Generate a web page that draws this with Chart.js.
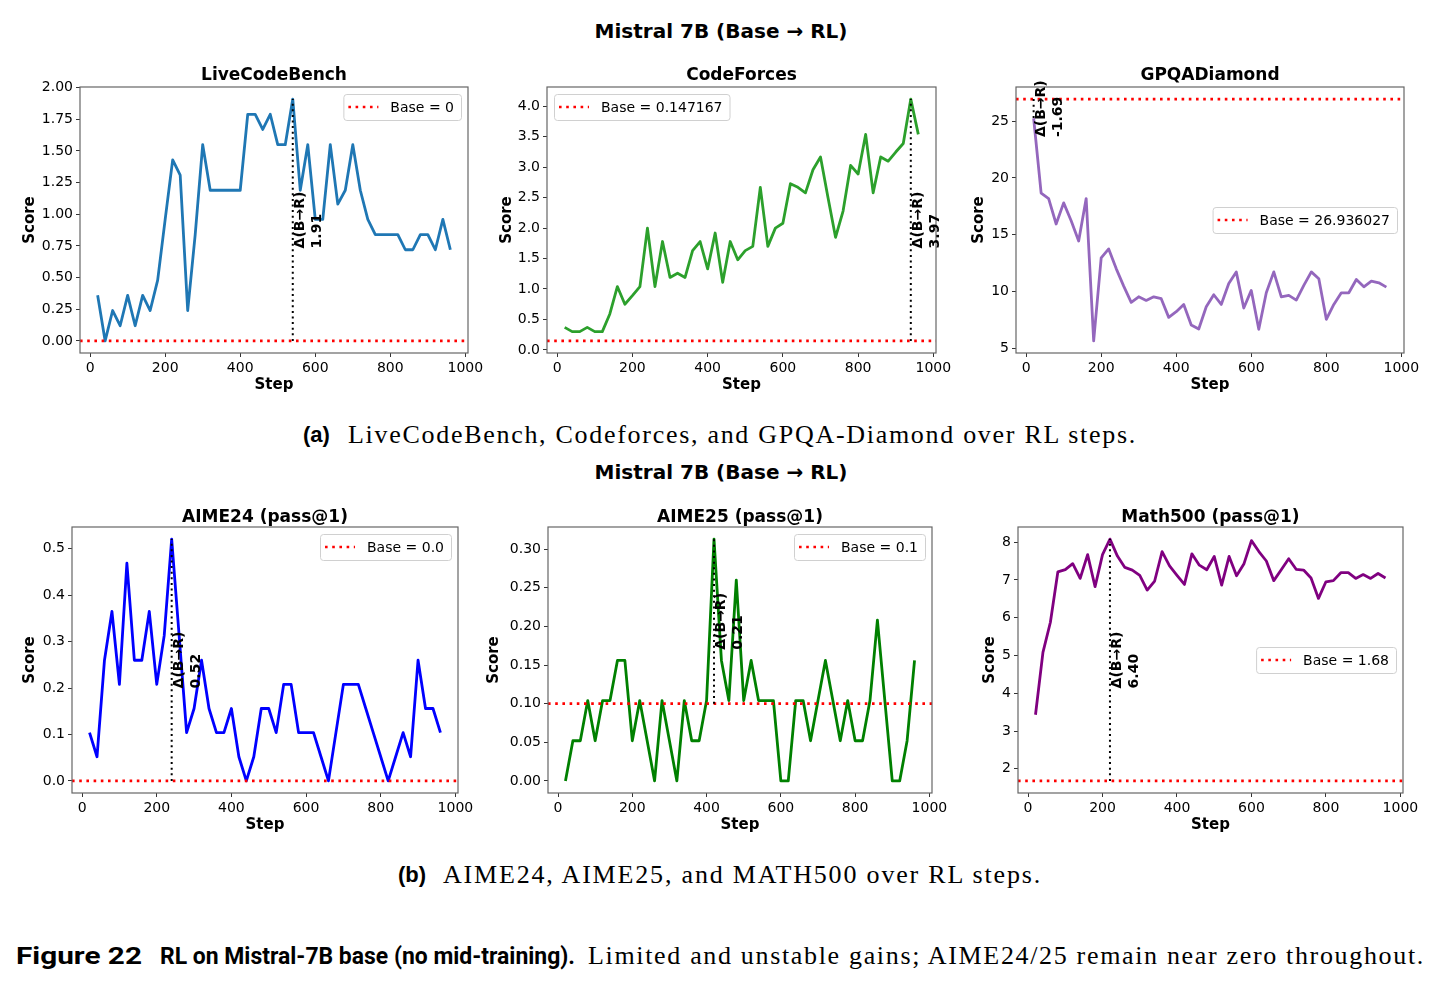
<!DOCTYPE html>
<html>
<head>
<meta charset="utf-8">
<script src="https://cdn.jsdelivr.net/npm/chart.js@4.4.1/dist/chart.umd.min.js"></script>
<style>
  html, body { margin: 0; padding: 0; background: #fff; }
  body { width: 1442px; height: 986px; position: relative; overflow: hidden; font-family: 'DejaVu Sans', sans-serif; color: #000; }
  canvas { position: absolute; }
  .suptitle { position: absolute; left: 0; width: 1442px; text-align: center; font: bold 20px 'DejaVu Sans'; line-height: 24px; }
  .lab { position: absolute; font: bold 22px 'Liberation Sans', sans-serif; line-height: 30px; white-space: nowrap; }
  .ser { position: absolute; font: 26px 'Liberation Serif', serif; line-height: 30px; white-space: nowrap; }
  .bsans { position: absolute; font: bold 24px 'Roboto', sans-serif; line-height: 30px; white-space: nowrap; transform-origin: left center; }
</style>
</head>
<body>
<div class="suptitle" style="top:19px">Mistral 7B (Base → RL)</div>
<div class="suptitle" style="top:460px">Mistral 7B (Base → RL)</div>

<span class="lab" style="left:303px;top:420px">(a)</span>
<span class="ser" id="capA" style="left:348px;top:420px">LiveCodeBench, Codeforces, and GPQA-Diamond over RL steps.</span>
<span class="lab" style="left:398px;top:860px">(b)</span>
<span class="ser" id="capB" style="left:443px;top:860px">AIME24, AIME25, and MATH500 over RL steps.</span>

<span class="bsans" id="fig1" style="left:16px;top:941px">Figure 22</span>
<span class="bsans" id="fig2" style="left:160px;top:941px">RL on Mistral-7B base (no mid-training).</span>
<span class="ser" id="fig3" style="left:588px;top:941px">Limited and unstable gains; AIME24/25 remain near zero throughout.</span>

<script>
// RL steps (shared by all six panels)
const steps = [20, 40, 60, 80, 100, 120, 140, 160, 180, 200, 220, 240, 260, 280, 300, 320,
  340, 360, 380, 400, 420, 440, 460, 480, 500, 520, 540, 560, 580, 600, 620, 640,
  660, 680, 700, 720, 740, 760, 780, 800, 820, 840, 860, 880, 900, 920, 940, 960];

// scores per benchmark
const lcbScores = [0.36, 0, 0.24, 0.12, 0.36, 0.12, 0.36, 0.24, 0.48, 0.96, 1.43, 1.31, 0.24, 0.84, 1.55, 1.19,
  1.19, 1.19, 1.19, 1.19, 1.79, 1.79, 1.67, 1.79, 1.55, 1.55, 1.91, 1.19, 1.55, 0.96, 0.96, 1.55,
  1.08, 1.19, 1.55, 1.19, 0.96, 0.84, 0.84, 0.84, 0.84, 0.72, 0.72, 0.84, 0.84, 0.72, 0.96, 0.72];
const cfScores = [0.37, 0.30, 0.30, 0.37, 0.30, 0.30, 0.59, 1.04, 0.75, 0.89, 1.04, 2.00, 1.04, 1.78, 1.19, 1.26,
  1.19, 1.63, 1.78, 1.33, 1.92, 1.11, 1.78, 1.48, 1.63, 1.70, 2.67, 1.70, 2.00, 2.08, 2.73, 2.67,
  2.58, 2.96, 3.17, 2.50, 1.85, 2.28, 3.03, 2.89, 3.54, 2.58, 3.17, 3.10, 3.25, 3.39, 4.12, 3.54];
const gpqaScores = [25.25, 18.66, 18.19, 15.95, 17.81, 16.24, 14.46, 18.19, 5.67, 12.97, 13.76, 12.03, 10.49, 9.06, 9.55, 9.23,
  9.55, 9.38, 7.74, 8.24, 8.88, 7.07, 6.72, 8.68, 9.73, 8.88, 10.72, 11.74, 8.56, 10.11, 6.69, 9.90,
  11.74, 9.55, 9.67, 9.26, 10.55, 11.74, 11.13, 7.57, 8.88, 9.90, 9.90, 11.07, 10.43, 10.93, 10.78, 10.40];
const aime24Scores = [0.104, 0.052, 0.26, 0.365, 0.208, 0.469, 0.26, 0.26, 0.365, 0.208, 0.313, 0.521, 0.313, 0.104, 0.156, 0.26,
  0.156, 0.104, 0.104, 0.156, 0.052, 0, 0.052, 0.156, 0.156, 0.104, 0.208, 0.208, 0.104, 0.104, 0.104, 0.052,
  0, 0.104, 0.208, 0.208, 0.208, 0.156, 0.104, 0.052, 0, 0.052, 0.104, 0.052, 0.26, 0.156, 0.156, 0.104];
const aime25Scores = [0, 0.052, 0.052, 0.104, 0.052, 0.104, 0.104, 0.156, 0.156, 0.052, 0.104, 0.052, 0, 0.104, 0.052, 0,
  0.104, 0.052, 0.052, 0.104, 0.313, 0.156, 0.104, 0.26, 0.104, 0.156, 0.104, 0.104, 0.104, 0, 0, 0.104,
  0.104, 0.052, 0.104, 0.156, 0.104, 0.052, 0.104, 0.052, 0.052, 0.104, 0.208, 0.104, 0, 0, 0.052, 0.156];
const math500Scores = [3.43, 5.08, 5.88, 7.21, 7.27, 7.43, 7.04, 7.67, 6.82, 7.67, 8.08, 7.63, 7.33, 7.26, 7.12, 6.73,
  6.97, 7.75, 7.37, 7.12, 6.88, 7.69, 7.39, 7.27, 7.62, 6.86, 7.62, 7.11, 7.43, 8.04, 7.75, 7.50,
  6.98, 7.27, 7.56, 7.28, 7.26, 7.05, 6.51, 6.95, 6.98, 7.19, 7.19, 7.04, 7.14, 7.04, 7.17, 7.05];

// base model scores (and how the legend prints them)
const baseValues = [0, 0.147167, 26.936027, 0.0, 0.1, 1.68];
const baseLabels = ['0', '0.147167', '26.936027', '0.0', '0.1', '1.68'];

const panelTitles = ['LiveCodeBench', 'CodeForces', 'GPQADiamond', 'AIME24 (pass@1)', 'AIME25 (pass@1)', 'Math500 (pass@1)'];

// tick labels
const xTicks = [0, 200, 400, 600, 800, 1000];
const lcbTicks = [0, 0.25, 0.5, 0.75, 1.0, 1.25, 1.5, 1.75, 2.0];
const cfTicks = [0, 0.5, 1.0, 1.5, 2.0, 2.5, 3.0, 3.5, 4.0];
const gpqaTicks = [5, 10, 15, 20, 25];
const aime24Ticks = [0, 0.1, 0.2, 0.3, 0.4, 0.5];
const aime25Ticks = [0, 0.05, 0.10, 0.15, 0.20, 0.25, 0.30];
const math500Ticks = [2, 3, 4, 5, 6, 7, 8];

Chart.defaults.font.family = "'DejaVu Sans', sans-serif";
Chart.defaults.color = '#000';

// layout of each subplot: frame box in page px, legend spot, label gaps
const panels = [
  { scores: lcbScores, ticks: lcbTicks, dec: 2, color: '#1f77b4', frame: [80, 87, 468, 353], legend: 'ur', scoreGap: 50, titleGap: 11 },
  { scores: cfScores, ticks: cfTicks, dec: 1, color: '#2ca02c', frame: [547, 87, 936, 353], legend: 'ul', scoreGap: 40, titleGap: 11 },
  { scores: gpqaScores, ticks: gpqaTicks, dec: 0, color: '#9467bd', frame: [1016, 87, 1404, 353], legend: 'cr', scoreGap: 37, titleGap: 11 },
  { scores: aime24Scores, ticks: aime24Ticks, dec: 1, color: '#0000ff', frame: [72, 527, 458, 793], legend: 'ur', scoreGap: 42, titleGap: 9 },
  { scores: aime25Scores, ticks: aime25Ticks, dec: 2, color: '#008000', frame: [548, 527, 932, 793], legend: 'ur', scoreGap: 54, titleGap: 9 },
  { scores: math500Scores, ticks: math500Ticks, dec: 0, color: '#800080', frame: [1018, 527, 1403, 793], legend: 'cr', scoreGap: 28, titleGap: 9 }
];

const LEFT = 80, RIGHT = 25, TOP = 45, BOTTOM = 50;

// frame, delta note and legend box drawn on top of the lines
const panelDeco = {
  id: 'panelDeco',
  afterDatasetsDraw(chart, args, o) {
    const { ctx, chartArea: a } = chart;
    const x = chart.scales.x, y = chart.scales.y;
    ctx.save();
    ctx.strokeStyle = '#666';
    ctx.lineWidth = 1.2;
    ctx.strokeRect(a.left, a.top, a.right - a.left, a.bottom - a.top);

    // Δ(B→R) note, rotated
    const px = x.getPixelForValue(o.bestStep);
    const py = y.getPixelForValue((o.base + o.peak) / 2);
    ctx.font = "bold 14px 'DejaVu Sans'";
    const l1 = 'Δ(B→R)', l2 = o.deltaText;
    const w = Math.max(ctx.measureText(l1).width, ctx.measureText(l2).width);
    ctx.save();
    ctx.translate(px, py);
    ctx.rotate(-Math.PI / 2);
    ctx.fillStyle = '#000';
    ctx.textAlign = 'left';
    ctx.textBaseline = 'alphabetic';
    ctx.fillText(l1, -w / 2, 11);
    ctx.fillText(l2, -w / 2, 28);
    ctx.restore();

    // legend
    ctx.font = "14px 'DejaVu Sans'";
    const label = 'Base = ' + o.baseLabel;
    const tw = ctx.measureText(label).width;
    const bw = 47 + tw + 7, bh = 26;
    let bx, by;
    if (o.legend === 'ul') { bx = a.left + 7; by = a.top + 7; }
    else if (o.legend === 'ur') { bx = a.right - 7 - bw; by = a.top + 7; }
    else { bx = a.right - 7 - bw; by = (a.top + a.bottom) / 2 - bh / 2; }
    ctx.beginPath();
    ctx.roundRect(bx + 0.5, by + 0.5, bw, bh, 3);
    ctx.fillStyle = 'rgba(255,255,255,0.8)';
    ctx.fill();
    ctx.strokeStyle = '#d0d0d0';
    ctx.lineWidth = 1;
    ctx.stroke();
    ctx.beginPath();
    ctx.setLineDash([2.6, 4.6]);
    ctx.strokeStyle = '#ff0000';
    ctx.lineWidth = 2.6;
    ctx.moveTo(bx + 5, by + bh / 2);
    ctx.lineTo(bx + 35, by + bh / 2);
    ctx.stroke();
    ctx.setLineDash([]);
    ctx.fillStyle = '#000';
    ctx.textBaseline = 'middle';
    ctx.fillText(label, bx + 47, by + bh / 2 + 1);
    ctx.restore();
  }
};

panels.forEach((p, i) => {
  const [L, T, R, B] = p.frame;
  const cv = document.createElement('canvas');
  cv.width = (R - L) + LEFT + RIGHT;
  cv.height = (B - T) + TOP + BOTTOM;
  cv.style.left = (L - LEFT) + 'px';
  cv.style.top = (T - TOP) + 'px';
  document.body.appendChild(cv);

  const base = baseValues[i];
  const peak = Math.max(...p.scores);
  const bestStep = steps[p.scores.indexOf(peak)];
  const lo = Math.min(...p.scores, base), hi = Math.max(...p.scores, base);
  const yPad = (hi - lo) * 0.05;
  const xSpan = steps[steps.length - 1] - steps[0];
  const xMin = steps[0] - xSpan * 0.05, xMax = steps[steps.length - 1] + xSpan * 0.05;

  new Chart(cv, {
    type: 'line',
    data: {
      datasets: [
        {
          data: [{ x: bestStep, y: base }, { x: bestStep, y: peak }],
          borderColor: '#000', borderWidth: 2, borderDash: [2, 3.6],
          pointRadius: 0, order: 1
        },
        {
          data: [{ x: xMin, y: base }, { x: xMax, y: base }],
          borderColor: '#ff0000', borderWidth: 2.6, borderDash: [2.6, 4.6],
          pointRadius: 0, order: 2
        },
        {
          data: steps.map((s, k) => ({ x: s, y: p.scores[k] })),
          borderColor: p.color, borderWidth: 2.8, borderJoinStyle: 'round',
          pointRadius: 0, tension: 0, order: 3
        }
      ]
    },
    options: {
      responsive: false,
      animation: false,
      devicePixelRatio: 1,
      events: [],
      layout: { padding: { left: 0, right: RIGHT, top: 0, bottom: 0 } },
      plugins: {
        legend: { display: false },
        tooltip: { enabled: false },
        title: {
          display: true,
          fullSize: false,
          text: panelTitles[i],
          font: { size: 17, weight: 'bold' },
          color: '#000',
          padding: { top: TOP - p.titleGap - 10.2, bottom: p.titleGap - 10.2 }
        },
        panelDeco: { bestStep, base, peak, deltaText: (peak - base).toFixed(2), baseLabel: baseLabels[i], legend: p.legend }
      },
      scales: {
        x: {
          type: 'linear', min: xMin, max: xMax, bounds: 'data',
          afterBuildTicks: ax => { ax.ticks = xTicks.map(v => ({ value: v })); },
          afterFit: ax => { ax.height = BOTTOM; },
          ticks: { font: { size: 14 }, padding: 3, maxRotation: 0, autoSkip: false, callback: v => String(v) },
          grid: { display: true, drawOnChartArea: false, drawTicks: true, tickLength: 4, color: '#333' },
          border: { display: false },
          title: { display: true, text: 'Step', font: { size: 15, weight: 'bold' }, padding: { top: 0, bottom: 9 } }
        },
        y: {
          type: 'linear', min: lo - yPad, max: hi + yPad, bounds: 'data',
          afterBuildTicks: ax => { ax.ticks = p.ticks.map(v => ({ value: v })); },
          afterFit: ax => { ax.width = LEFT; },
          ticks: { font: { size: 14 }, padding: 3, autoSkip: false, callback: v => Number(v).toFixed(p.dec) },
          grid: { display: true, drawOnChartArea: false, drawTicks: true, tickLength: 4, color: '#333' },
          border: { display: false },
          title: { display: true, text: 'Score', font: { size: 15, weight: 'bold' }, padding: { top: LEFT - p.scoreGap - 9, bottom: 0 } }
        }
      }
    },
    plugins: [panelDeco]
  });
});

// stretch caption lines to the width they take in the figure
function fitSpacing(id, target) {
  const el = document.getElementById(id);
  const w = el.getBoundingClientRect().width;
  el.style.letterSpacing = ((target - w) / el.textContent.length) + 'px';
}
function fitScale(id, target) {
  const el = document.getElementById(id);
  const w = el.getBoundingClientRect().width;
  el.style.transform = 'scaleX(' + (target / w) + ')';
}
fitSpacing('capA', 789);
fitSpacing('capB', 599);
fitSpacing('fig3', 837);
fitScale('fig1', 126);
fitScale('fig2', 415);
</script>
</body>
</html>
